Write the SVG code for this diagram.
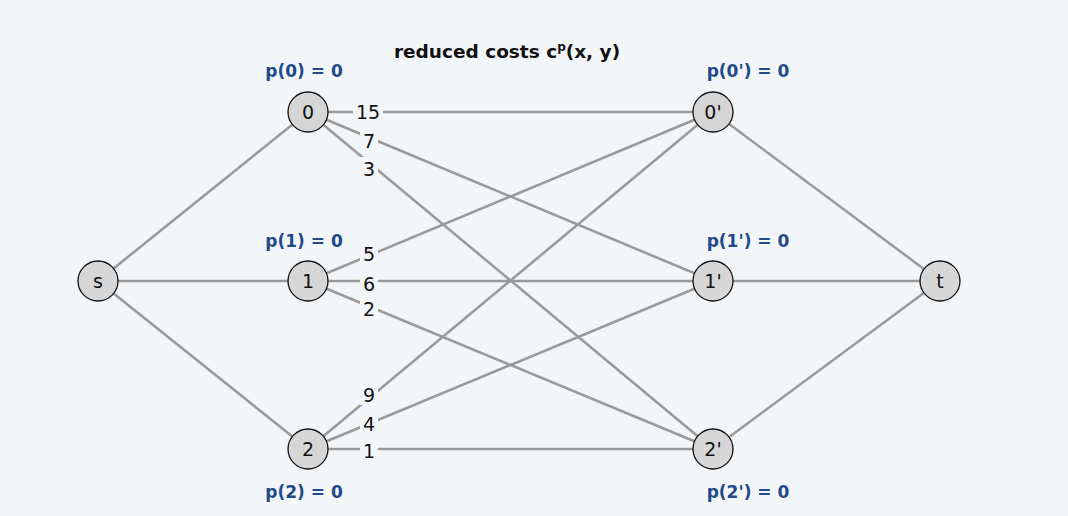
<svg xmlns="http://www.w3.org/2000/svg" width="1068" height="516" viewBox="0 0 1068 516">
<style>
.e{stroke:#999;stroke-width:2.5;fill:none}
.n circle{fill:#d6d6d6;stroke:#111;stroke-width:1.3}
.n text{font-family:"DejaVu Sans",sans-serif;font-size:19px;text-anchor:middle;fill:#111}
.w{font-family:"DejaVu Sans",sans-serif;font-size:19px;text-anchor:middle;fill:#111}
.bg{fill:#f3f6f9}
.p{font-family:"DejaVu Sans",sans-serif;font-size:17px;font-weight:bold;text-anchor:middle;fill:#1f4a8a}
</style>
<rect width="1068" height="516" fill="#f3f6f9"/>
<text x="507" y="58" font-family="DejaVu Sans,sans-serif" font-size="18.5" font-weight="bold" text-anchor="middle" fill="#111">reduced costs c<tspan font-size="12" dy="-7">p</tspan><tspan dy="7">(x, y)</tspan></text>
<g id="connectors">
<line class="e" x1="98" y1="281" x2="308" y2="112"/>
<line class="e" x1="98" y1="281" x2="308" y2="281"/>
<line class="e" x1="98" y1="281" x2="308" y2="449"/>
<line class="e" x1="308" y1="112" x2="713" y2="112"/>
<line class="e" x1="308" y1="112" x2="713" y2="281"/>
<line class="e" x1="308" y1="112" x2="713" y2="449"/>
<line class="e" x1="308" y1="281" x2="713" y2="112"/>
<line class="e" x1="308" y1="281" x2="713" y2="281"/>
<line class="e" x1="308" y1="281" x2="713" y2="449"/>
<line class="e" x1="308" y1="449" x2="713" y2="112"/>
<line class="e" x1="308" y1="449" x2="713" y2="281"/>
<line class="e" x1="308" y1="449" x2="713" y2="449"/>
<line class="e" x1="713" y1="112" x2="940" y2="281"/>
<line class="e" x1="713" y1="281" x2="940" y2="281"/>
<line class="e" x1="713" y1="449" x2="940" y2="281"/>
<g id="weights">
<rect class="bg" x="353" y="100" width="30" height="22"/><text class="w" x="368" y="119">15</text>
<rect class="bg" x="360" y="129" width="18" height="22"/><text class="w" x="369" y="148">7</text>
<rect class="bg" x="360" y="157" width="18" height="22"/><text class="w" x="369" y="176">3</text>
<rect class="bg" x="360" y="242" width="18" height="22"/><text class="w" x="369" y="261">5</text>
<rect class="bg" x="360" y="272" width="18" height="22"/><text class="w" x="369" y="291">6</text>
<rect class="bg" x="360" y="297" width="18" height="22"/><text class="w" x="369" y="316">2</text>
<rect class="bg" x="360" y="383" width="18" height="22"/><text class="w" x="369" y="402">9</text>
<rect class="bg" x="360" y="412" width="18" height="22"/><text class="w" x="369" y="431">4</text>
<rect class="bg" x="360" y="439" width="18" height="22"/><text class="w" x="369" y="458">1</text>
</g>
</g>
<g id="node-s" class="n"><circle cx="98" cy="281" r="20"/><text x="98" y="288">s</text></g>
<g id="node-0" class="n"><circle cx="308" cy="112" r="20"/><text x="308" y="119">0</text></g>
<g id="node-1" class="n"><circle cx="308" cy="281" r="20"/><text x="308" y="288">1</text></g>
<g id="node-2" class="n"><circle cx="308" cy="449" r="20"/><text x="308" y="456">2</text></g>
<g id="node-0p" class="n"><circle cx="713" cy="112" r="20"/><text x="713" y="119">0'</text></g>
<g id="node-1p" class="n"><circle cx="713" cy="281" r="20"/><text x="713" y="288">1'</text></g>
<g id="node-2p" class="n"><circle cx="713" cy="449" r="20"/><text x="713" y="456">2'</text></g>
<g id="node-t" class="n"><circle cx="940" cy="281" r="20"/><text x="940" y="288">t</text></g>
<g id="potentials">
<text class="p" x="304" y="77">p(0) = 0</text>
<text class="p" x="304" y="247">p(1) = 0</text>
<text class="p" x="304" y="498">p(2) = 0</text>
<text class="p" x="748" y="77">p(0') = 0</text>
<text class="p" x="748" y="247">p(1') = 0</text>
<text class="p" x="748" y="498">p(2') = 0</text>
</g>
</svg>
